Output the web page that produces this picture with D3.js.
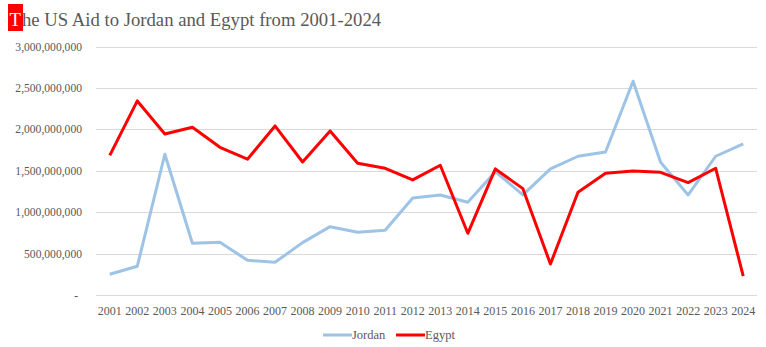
<!DOCTYPE html>
<html><head><meta charset="utf-8">
<script src="https://cdn.jsdelivr.net/npm/d3@7"></script>
<style>body{margin:0;background:#fff}svg{display:block}svg text{font-family:"Liberation Serif","Times New Roman",Tinos,"DejaVu Serif",serif}</style>
</head><body>
<script>
const years = ["2001","2002","2003","2004","2005","2006","2007","2008","2009","2010","2011","2012","2013","2014","2015","2016","2017","2018","2019","2020","2021","2022","2023","2024"];
const jordan = [250e6,347e6,1699e6,624e6,636e6,419e6,395e6,632e6,825e6,757e6,781e6,1171e6,1208e6,1119e6,1489e6,1208e6,1522e6,1675e6,1727e6,2581e6,1602e6,1208e6,1675e6,1824e6];
const egypt = [1685e6,2343e6,1944e6,2025e6,1783e6,1639e6,2041e6,1606e6,1981e6,1590e6,1530e6,1389e6,1566e6,745e6,1522e6,1284e6,374e6,1240e6,1469e6,1498e6,1481e6,1357e6,1530e6,229e6];
const yTicks = [0,500e6,1000e6,1500e6,2000e6,2500e6,3000e6];
const seriesNames = ["Jordan","Egypt"];
const colors = ["#9dc3e6","#ff0000"];

const W=766,H=347;
const svg=d3.select("body").append("svg").attr("width",W).attr("height",H);
const x=d3.scaleBand().domain(years).range([96,757]);
const y=d3.scaleLinear().domain([0,3000e6]).range([295,46.5]);

svg.append("g").selectAll("line").data(yTicks).join("line")
 .attr("x1",96).attr("x2",757).attr("y1",d=>Math.round(y(d))+0.5).attr("y2",d=>Math.round(y(d))+0.5)
 .attr("stroke","#d9d9d9").attr("stroke-width",1);

const fmt=d=>d===0?"-":d3.format(",")(d);
svg.append("g").selectAll("text").data(yTicks).join("text")
 .attr("x",d=>d===0?78:82).attr("y",d=>y(d)+4).attr("text-anchor","end")
 .attr("font-size",11.6).attr("fill","#595959").text(fmt);

svg.append("g").selectAll("text").data(years).join("text")
 .attr("x",d=>x(d)+x.bandwidth()/2).attr("y",315).attr("text-anchor","middle")
 .attr("font-size",12).attr("fill","#595959").text(d=>d);

const line=d3.line().x((d,i)=>x(years[i])+x.bandwidth()/2).y(d=>y(d));
[jordan,egypt].forEach((s,k)=>{
 svg.append("path").datum(s).attr("d",line).attr("fill","none")
  .attr("stroke",colors[k]).attr("stroke-width",3).attr("stroke-linejoin","round");
});

const leg=[{x:323},{x:396}];
seriesNames.forEach((n,k)=>{
 svg.append("line").attr("x1",leg[k].x).attr("x2",leg[k].x+29).attr("y1",335).attr("y2",335)
  .attr("stroke",colors[k]).attr("stroke-width",3);
 svg.append("text").attr("x",leg[k].x+29).attr("y",339).attr("font-size",12.5)
  .attr("fill","#595959").text(n);
});

svg.append("rect").attr("x",8).attr("y",4).attr("width",15).attr("height",27).attr("fill","#ff0000");
const t=svg.append("text").attr("x",9.5).attr("y",26).attr("font-size",18.7).attr("fill","#595959");
t.append("tspan").attr("fill","#ffffff").text("T");
t.append("tspan").attr("dx",1).text("he US Aid to Jordan and Egypt from 2001-2024");
</script>
</body></html>
